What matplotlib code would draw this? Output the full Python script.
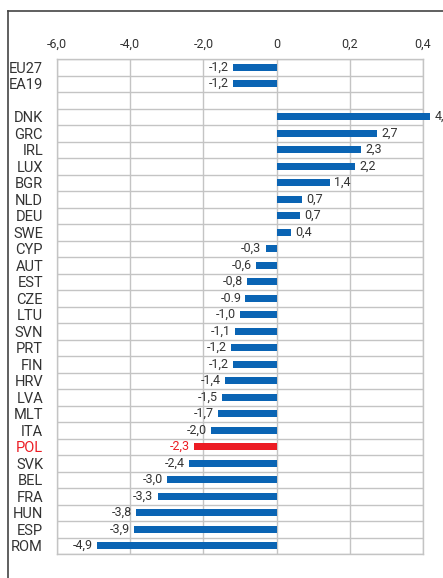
import matplotlib.pyplot as plt
from matplotlib.lines import Line2D
import numpy as np

plt.rcParams['font.family'] = ['Roboto', 'DejaVu Sans']

countries = ["EU27", "EA19", "", "DNK", "GRC", "IRL", "LUX", "BGR", "NLD", "DEU",
             "SWE", "CYP", "AUT", "EST", "CZE", "LTU", "SVN", "PRT", "FIN", "HRV",
             "LVA", "MLT", "ITA", "POL", "SVK", "BEL", "FRA", "HUN", "ESP", "ROM"]
values = [-1.2, -1.2, None, 4.2, 2.75, 2.3, 2.15, 1.45, 0.7, 0.65,
          0.4, -0.3, -0.55, -0.8, -0.85, -1.0, -1.15, -1.25, -1.2, -1.4,
          -1.5, -1.6, -1.8, -2.25, -2.4, -3.0, -3.25, -3.85, -3.9, -4.9]
value_labels = ["-1,2", "-1,2", "", "4,2", "2,7", "2,3", "2,2", "1,4", "0,7", "0,7",
                "0,4", "-0,3", "-0,6", "-0,8", "-0.9", "-1,0", "-1,1", "-1,2", "-1,2", "-1,4",
                "-1,5", "-1,7", "-2,0", "-2,3", "-2,4", "-3,0", "-3,3", "-3,8", "-3,9", "-4,9"]
x_ticks = [-6, -4, -2, 0, 2, 4]
x_tick_labels = ["-6,0", "-4,0", "-2,0", "0", "0,2", "0,4"]
highlight = "POL"

blue = "#0a64b4"
red = "#ec1c24"
grid_col = "#c4c4c4"
text_col = "#333333"

fig = plt.figure(figsize=(4.43, 5.78), dpi=100)
ax = fig.add_axes([57 / 443, 1 - 554 / 578, 366 / 443, 495 / 578])

y = np.arange(len(countries))
for yi, name, v, lab in zip(y, countries, values, value_labels):
    if v is None:
        continue
    col = red if name == highlight else blue
    ax.barh(yi, v, height=0.45, color=col, zorder=3, clip_on=False)
    if v < 0:
        ax.annotate(lab, (v, yi), xytext=(-3, 0), textcoords="offset points",
                    ha="right", va="center", fontsize=9, color=col if name == highlight else text_col,
                    annotation_clip=False)
    else:
        ax.annotate(lab, (v, yi), xytext=(3, 0), textcoords="offset points",
                    ha="left", va="center", fontsize=9, color=text_col,
                    annotation_clip=False)

ax.set_xlim(-6, 4)
ax.set_ylim(len(countries) - 0.5, -0.5)
ax.set_xticks(x_ticks)
ax.set_xticklabels(x_tick_labels, fontsize=9, color=text_col)
ax.xaxis.tick_top()
ax.tick_params(axis="x", length=0, pad=6)
ax.set_yticks(y)
ax.set_yticklabels(countries, fontsize=10.5, color=text_col)
for lbl in ax.get_yticklabels():
    if lbl.get_text() == highlight:
        lbl.set_color(red)
ax.tick_params(axis="y", length=0, pad=10)
ax.set_yticks(np.arange(len(countries) + 1) - 0.5, minor=True)
ax.tick_params(axis="y", which="minor", length=0)
ax.grid(axis="x", color=grid_col, linewidth=1, zorder=1)
ax.grid(axis="y", which="minor", color=grid_col, linewidth=1, zorder=1)
ax.set_axisbelow(True)
for sp in ax.spines.values():
    sp.set_color(grid_col)
    sp.set_linewidth(1)

# outer frame (only left and top visible in the crop)
fig.add_artist(Line2D([8 / 443, 8 / 443], [0, 1 - 11 / 578], color="#444444", linewidth=1.2))
fig.add_artist(Line2D([8 / 443, 1], [1 - 11 / 578, 1 - 11 / 578], color="#444444", linewidth=1.2))

fig.savefig("out.png", dpi=100)
